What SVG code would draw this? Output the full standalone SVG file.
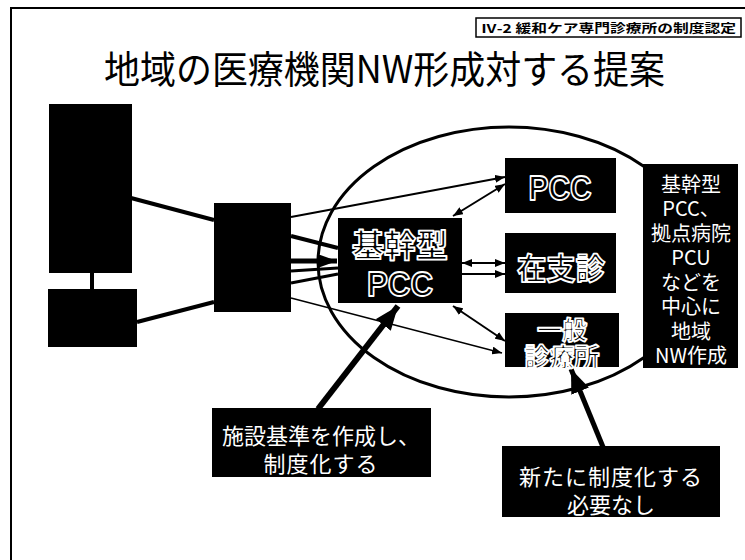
<svg xmlns="http://www.w3.org/2000/svg" width="745" height="560" viewBox="0 0 745 560">
<style>
.blk{fill:#000}
.jp{font-family:"Noto Sans CJK JP","Noto Sans CJK SC",sans-serif}
.wt{fill:#fff}
.hol{fill:#000;stroke:#fff;stroke-width:1.8;stroke-linejoin:round;font-weight:bold}
.ln{stroke:#000;fill:none}
</style>
<defs>
<marker id="sm" markerUnits="userSpaceOnUse" markerWidth="10" markerHeight="8" refX="10" refY="4" orient="auto-start-reverse"><path d="M0,0 L10,4 L0,8 z" fill="#000"/></marker>
<marker id="md" markerUnits="userSpaceOnUse" markerWidth="18" markerHeight="13" refX="18" refY="6.5" orient="auto"><path d="M0,0 L18,6.5 L0,13 z" fill="#000"/></marker>
<marker id="bg" markerUnits="userSpaceOnUse" markerWidth="24" markerHeight="19" refX="24" refY="9.5" orient="auto"><path d="M0,0 L24,9.5 L0,19 z" fill="#000"/></marker>
</defs>
<rect width="745" height="560" fill="#fff"/>
<g id="frame">
<line x1="11" y1="8" x2="11" y2="560" class="ln" stroke-width="2"/>
<line x1="10" y1="8" x2="745" y2="8" class="ln" stroke-width="2"/>
</g>
<g id="tag">
<rect x="476" y="18" width="265" height="19" fill="#fff" stroke="#000" stroke-width="1.5"/>
<text x="481" y="32.5" class="jp" font-size="12" font-weight="bold" textLength="255" lengthAdjust="spacingAndGlyphs">Ⅳ-2 緩和ケア専門診療所の制度認定</text>
</g>
<g id="title">
<text x="104" y="83" class="jp" font-size="38" textLength="561" lengthAdjust="spacingAndGlyphs">地域の医療機関NW形成対する提案</text>
</g>
<g id="ellipse">
<ellipse cx="509" cy="262" rx="191" ry="135" class="ln" stroke-width="3"/>
</g>
<g id="connectors">
<line x1="92" y1="272" x2="92" y2="290" class="ln" stroke-width="4"/>
<line x1="131" y1="198" x2="214" y2="220" class="ln" stroke-width="4"/>
<line x1="137" y1="322" x2="214" y2="302" class="ln" stroke-width="4"/>
<line x1="291" y1="217" x2="505" y2="177" class="ln" stroke-width="2.2" marker-end="url(#sm)"/>
<line x1="291" y1="236" x2="338" y2="248" class="ln" stroke-width="4"/>
<line x1="291" y1="261" x2="337" y2="261" class="ln" stroke-width="5" marker-end="url(#md)"/>
<line x1="291" y1="271" x2="338" y2="268" class="ln" stroke-width="3"/>
<line x1="291" y1="283" x2="338" y2="274" class="ln" stroke-width="3"/>
<line x1="291" y1="298" x2="502" y2="353" class="ln" stroke-width="1.3" marker-end="url(#sm)"/>
<line x1="453" y1="216" x2="505" y2="184" class="ln" stroke-width="2" marker-start="url(#sm)" marker-end="url(#sm)"/>
<line x1="462" y1="263" x2="505" y2="263" class="ln" stroke-width="2" marker-start="url(#sm)" marker-end="url(#sm)"/>
<line x1="462" y1="274" x2="505" y2="274" class="ln" stroke-width="2" marker-end="url(#sm)"/>
<line x1="453" y1="306" x2="505" y2="341" class="ln" stroke-width="2" marker-start="url(#sm)" marker-end="url(#sm)"/>
<line x1="318" y1="409" x2="398" y2="306" class="ln" stroke-width="6" marker-end="url(#bg)"/>
<line x1="603" y1="447" x2="571" y2="369" class="ln" stroke-width="5" marker-end="url(#bg)"/>
</g>
<g id="src-tall"><rect x="49" y="104" width="83" height="169" class="blk"/></g>
<g id="src-small"><rect x="48" y="289" width="89" height="58" class="blk"/></g>
<g id="hub"><rect x="214" y="203" width="77" height="109" class="blk"/></g>
<g id="core-pcc">
<rect x="338" y="218" width="124" height="85" class="blk"/>
<text x="400" y="257" text-anchor="middle" class="jp hol" font-size="32">基幹型</text>
<text x="400" y="296" text-anchor="middle" class="hol" font-family="Liberation Sans,Arial,sans-serif" font-size="35" textLength="66" lengthAdjust="spacingAndGlyphs">PCC</text>
</g>
<g id="pcc">
<rect x="505" y="158" width="111" height="55" class="blk"/>
<text x="560" y="200" text-anchor="middle" class="hol" font-family="Liberation Sans,Arial,sans-serif" font-size="35" textLength="63" lengthAdjust="spacingAndGlyphs">PCC</text>
</g>
<g id="zaishishin">
<rect x="505" y="233" width="111" height="60" class="blk"/>
<text x="561" y="279" text-anchor="middle" class="jp hol" font-size="30" textLength="88" lengthAdjust="spacingAndGlyphs">在支診</text>
</g>
<g id="ippan">
<rect x="505" y="313" width="114" height="54" class="blk"/>
<text text-anchor="middle" class="jp hol" font-size="25"><tspan x="562" y="339">一般</tspan><tspan x="562" y="366">診療所</tspan></text>
</g>
<g id="note-right">
<rect x="643" y="164" width="95" height="204" class="blk"/>
<text class="jp wt" font-size="20" text-anchor="middle"><tspan x="691" y="192">基幹型</tspan><tspan x="691" y="216">PCC、</tspan><tspan x="691" y="241">拠点病院</tspan><tspan x="691" y="265">PCU</tspan><tspan x="691" y="290">などを</tspan><tspan x="691" y="314">中心に</tspan><tspan x="691" y="339">地域</tspan><tspan x="691" y="363">NW作成</tspan></text>
</g>
<g id="label-left">
<rect x="212" y="408" width="219" height="69" class="blk"/>
<text text-anchor="middle" class="jp wt" font-size="22"><tspan x="321" y="444">施設基準を作成し、</tspan><tspan x="321" y="472" letter-spacing="1">制度化する</tspan></text>
</g>
<g id="label-right">
<rect x="502" y="446" width="218" height="71" class="blk"/>
<text text-anchor="middle" class="jp wt" font-size="22"><tspan x="611" y="485" letter-spacing="1">新たに制度化する</tspan><tspan x="611" y="513">必要なし</tspan></text>
</g>
</svg>
